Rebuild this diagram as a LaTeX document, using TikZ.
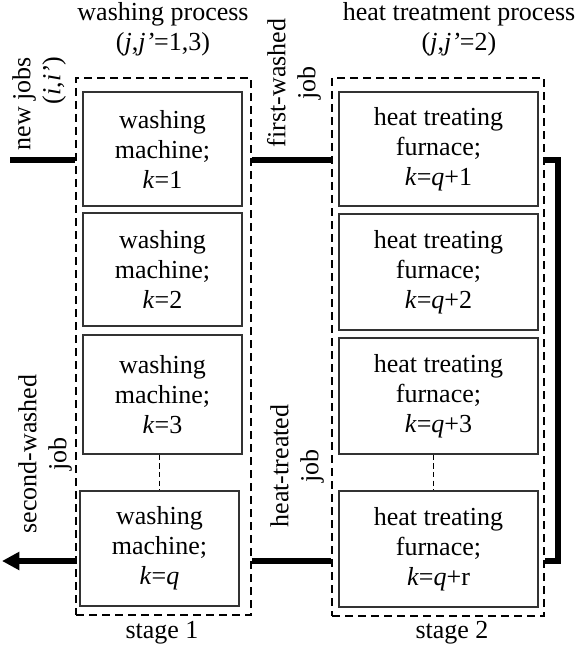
\documentclass[tikz,border=0pt]{standalone}
\usepackage{fontspec}
\setmainfont{Liberation Serif}
\usetikzlibrary{arrows.meta}

\tikzset{
  unit/.style={draw=black!80, line width=0.8pt, inner sep=0pt, align=center},
  stagebox/.style={draw=black, line width=1.1pt, dash pattern=on 6pt off 3.75pt, inner sep=0pt},
  flow/.style={line width=4.2pt},
  link/.style={line width=0.7pt, dash pattern=on 4pt off 2.5pt},
  joblabel/.style={rotate=90, align=center, inner sep=0pt},
  title/.style={align=center, inner sep=0pt}
}

\begin{document}
\begin{tikzpicture}[x=0.75pt, y=-0.75pt, font=\fontsize{19.5}{22.5}\selectfont]
        \useasboundingbox (0,0) rectangle (581,652);
        % stage 1: washing
        \node[stagebox, minimum width=131.25pt, minimum height=402.75pt] (washgrp) at (163.5,346.5) {};
        \node[unit, minimum width=119.25pt, minimum height=85.5pt] (wash1) at (162.5,149) {washing\\machine;\\\textit{k}=1};
        \node[unit, minimum width=119.25pt, minimum height=84.75pt] (wash2) at (162.5,269.5) {washing\\machine;\\\textit{k}=2};
        \node[unit, minimum width=119.25pt, minimum height=89.25pt] (wash3) at (162.5,394.5) {washing\\machine;\\\textit{k}=3};
        \node[unit, minimum width=119.25pt, minimum height=86.25pt] (wash4) at (159.5,548.5) {washing\\machine;\\\textit{k}=\textit{q}};
        \draw[link] (wash3.south -| wash4) -- (wash4.north);
        \node[title] (washtitle) at (163,29) {washing process\\(\textit{j},\textit{j’}=1,3)};
        \node[title] (stage1) at (162,633) {stage 1};
        %
        % stage 2: heat treatment
        \node[stagebox, minimum width=159pt, minimum height=403.5pt] (heatgrp) at (438,347) {};
        \node[unit, minimum width=149.25pt, minimum height=85.5pt] (heat1) at (438.5,149) {heat treating\\furnace;\\\textit{k}=\textit{q}+1};
        \node[unit, minimum width=149.25pt, minimum height=87pt] (heat2) at (438.5,272) {heat treating\\furnace;\\\textit{k}=\textit{q}+2};
        \node[unit, minimum width=149.25pt, minimum height=87pt] (heat3) at (438.5,396) {heat treating\\furnace;\\\textit{k}=\textit{q}+3};
        \node[unit, minimum width=149.25pt, minimum height=87pt] (heat4) at (438.5,549) {heat treating\\furnace;\\\textit{k}=\textit{q}+r};
        \draw[link] ([xshift=-4pt]heat3.south) -- ([xshift=-4pt]heat4.north);
        \node[title] (heattitle) at (459,29) {heat treatment process\\(\textit{j},\textit{j’}=2)};
        \node[title] (stage2) at (452,633) {stage 2};
        %
        % job flows
        \coordinate (rowtop) at (0,160);
        \coordinate (rowbot) at (0,561);
        \coordinate (newin) at (10,160);
        \coordinate (jobout) at (2,561);
        \draw[flow] (newin) -- (washgrp.west |- rowtop);
        \draw[flow] (washgrp.east |- rowtop) -- (heatgrp.west |- rowtop);
        \draw[flow] (heatgrp.east |- rowtop) -- ++(13,0) |- (heatgrp.east |- rowbot);
        \draw[flow] (heatgrp.west |- rowbot) -- (washgrp.east |- rowbot);
        \draw[flow, -{Triangle[length=13pt, width=13pt]}] (washgrp.west |- rowbot) -- (jobout);
        %
        \node[joblabel, align=right, anchor=east] (newlbl) at (39,57) {new jobs\\(\textit{i},\textit{i’})};
        \node[joblabel] (firstlbl) at (294,83) {first-washed\\job};
        \node[joblabel] (heatlbl) at (297,466) {heat-treated\\job};
        \node[joblabel] (secondlbl) at (45,454) {second-washed\\job};
    \end{tikzpicture}
\end{document}
